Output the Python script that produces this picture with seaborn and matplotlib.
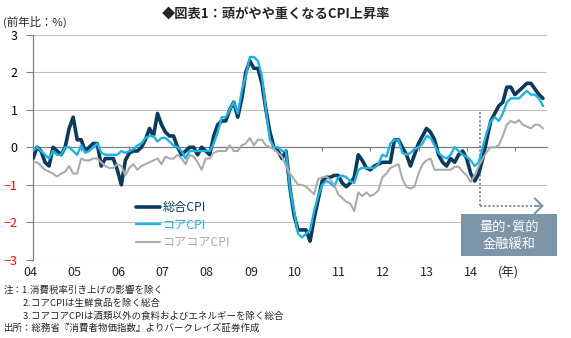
import numpy as np
import pandas as pd
import matplotlib
matplotlib.use("Agg")
import matplotlib.pyplot as plt
from matplotlib.patches import Rectangle
import seaborn as sns

# ---------------- data (前年比, %, monthly Jan-2004 .. Aug-2014) ----------------
headline = [
    -0.3, 0.0, -0.1, -0.4, -0.5, 0.0, -0.1, -0.2, 0.0, 0.5, 0.8, 0.2,      # 2004
    0.2, -0.1, 0.0, 0.1, 0.1, -0.5, -0.3, -0.3, -0.3, -0.6, -1.0, -0.35,   # 2005
    -0.15, -0.1, -0.1, 0.0, 0.2, 0.5, 0.3, 0.9, 0.6, 0.4, 0.3, 0.3,       # 2006
    0.0, -0.2, -0.1, 0.0, 0.0, -0.2, 0.0, -0.1, -0.2, 0.3, 0.6, 0.7,      # 2007
    0.7, 1.0, 1.2, 0.8, 1.3, 2.0, 2.3, 2.1, 2.1, 1.7, 1.0, 0.4,           # 2008
    0.0, -0.1, -0.3, -0.1, -1.1, -1.8, -2.2, -2.2, -2.2, -2.5, -1.9, -1.4,  # 2009
    -0.9, -0.8, -0.8, -0.75, -0.75, -0.95, -1.05, -0.95, -0.8, -0.2, -0.35, -0.55,  # 2010
    -0.6, -0.5, -0.45, -0.4, -0.4, -0.4, 0.2, 0.2, 0.0, -0.2, -0.5, -0.2,  # 2011
    0.1, 0.3, 0.5, 0.4, 0.2, -0.2, -0.4, -0.5, -0.3, -0.4, -0.2, -0.1,    # 2012
    -0.3, -0.7, -0.9, -0.7, -0.3, 0.2, 0.7, 0.9, 1.1, 1.2, 1.6, 1.6,      # 2013
    1.4, 1.5, 1.6, 1.7, 1.7, 1.55, 1.4, 1.3,                              # 2014
]
core = [
    -0.1, 0.0, -0.1, -0.2, -0.3, -0.1, -0.2, -0.2, 0.0, 0.0, -0.1, -0.2,
    0.05, -0.15, -0.1, 0.0, 0.1, -0.15, -0.2, -0.2, -0.2, -0.2, -0.1, -0.15,
    -0.1, -0.05, 0.05, 0.1, 0.25, 0.3, 0.3, 0.15, 0.25, 0.25, 0.15, 0.05,
    0.0, -0.1, -0.3, -0.1, -0.1, -0.1, -0.1, -0.1, -0.1, 0.1, 0.4, 0.8,
    0.8, 1.0, 1.2, 0.9, 1.5, 1.9, 2.4, 2.4, 2.3, 1.9, 1.0, 0.2,
    0.0, 0.0, -0.1, -0.1, -1.1, -1.7, -2.3, -2.4, -2.3, -2.2, -1.7, -1.3,
    -1.0, -0.9, -0.95, -1.05, -0.8, -0.75, -0.8, -0.9, -0.95, -0.6, -0.55, -0.55,
    -0.55, -0.55, -0.45, -0.2, -0.25, 0.1, 0.2, 0.2, -0.15, -0.2, -0.15, -0.05,
    0.0, 0.1, 0.3, 0.25, 0.05, -0.15, -0.25, -0.3, -0.2, 0.0, -0.1, -0.2,
    -0.25, -0.35, -0.5, -0.4, 0.0, 0.4, 0.7, 0.8, 0.7, 0.9, 1.2, 1.3,
    1.3, 1.3, 1.4, 1.5, 1.4, 1.4, 1.3, 1.1,
]
core_core = [
    -0.4, -0.4, -0.5, -0.6, -0.65, -0.7, -0.78, -0.7, -0.65, -0.5, -0.7, -0.7,
    -0.3, -0.35, -0.35, -0.3, -0.3, -0.4, -0.5, -0.55, -0.55, -0.45, -0.5, -0.75,
    -0.55, -0.45, -0.6, -0.5, -0.45, -0.4, -0.35, -0.3, -0.45, -0.25, -0.3, -0.3,
    -0.2, -0.3, -0.45, -0.2, -0.25, -0.4, -0.6, -0.3, -0.3, -0.15, -0.1, -0.1,
    -0.1, 0.05, -0.1, -0.1, 0.05, 0.1, 0.25, 0.05, 0.2, 0.2, 0.05, 0.0,
    -0.05, -0.15, -0.25, -0.5, -0.7, -0.85, -1.0, -1.0, -1.05, -1.15, -1.25, -0.85,
    -0.8, -0.78, -0.86, -1.0, -1.25, -1.35, -1.45, -1.5, -1.7, -1.2, -1.3, -1.2,
    -1.3, -1.25, -1.15, -0.8, -0.7, -0.55, -0.5, -0.45, -0.85, -1.05, -1.1, -1.05,
    -0.7, -0.45, -0.35, -0.3, -0.6, -0.6, -0.6, -0.6, -0.6, -0.52, -0.52, -0.65,
    -0.75, -0.92, -0.75, -0.5, -0.3, -0.12, 0.0, 0.0, 0.05, 0.3, 0.6, 0.7,
    0.65, 0.72, 0.6, 0.55, 0.5, 0.6, 0.6, 0.5,
]
series_names = ["総合CPI", "コアCPI", "コアコアCPI"]
year_labels = ["04", "05", "06", "07", "08", "09", "10", "11", "12", "13", "14"]
y_ticks = [-3, -2, -1, 0, 1, 2, 3]
qqe_month = 111.3          # start of 量的・質的金融緩和 (Apr 2013)

title = "◆図表1：頭がやや重くなるCPI上昇率"
unit_label = "(前年比：%)"
notes = [
    "注：1.消費税率引き上げの影響を除く",
    "　　2.コアCPIは生鮮食品を除く総合",
    "　　3.コアコアCPIは酒類以外の食料およびエネルギーを除く総合",
    "出所：総務省『消費者物価指数』よりバークレイズ証券作成",
]

# ---------------- styling ----------------
sns.set_theme(style="white")
plt.rcParams["font.family"] = ["Noto Sans CJK JP", "DejaVu Sans"]

W, H = 571, 338
colors = ["#0b3a5e", "#1bb4e8", "#ababab"]
widths = [2.6, 1.7, 1.5]

fig = plt.figure(figsize=(W / 100, H / 100), dpi=100)
ax = fig.add_axes([33 / W, 1 - 260 / H, 514 / W, 225.5 / H])

months = np.arange(len(headline))
df = pd.DataFrame({"month": months,
                   series_names[0]: headline,
                   series_names[1]: core,
                   series_names[2]: core_core})

for name, c, lw in zip(series_names, colors, widths):
    sns.lineplot(data=df, x="month", y=name, ax=ax, color=c, linewidth=lw,
                 label=name, zorder=3)

ax.set_xlim(0, 128)
ax.set_ylim(-3, 3)
ax.set_xlabel("")
ax.set_ylabel("")

ax.set_yticks(y_ticks)
ax.set_yticklabels([("\u2212" + str(abs(t))) if t < 0 else str(t) for t in y_ticks])
for lbl, t in zip(ax.get_yticklabels(), y_ticks):
    lbl.set_color("#ff0000" if t < 0 else "#000000")
ax.yaxis.grid(True, color="#c0c0c0", linewidth=0.8)
ax.xaxis.grid(False)
ax.set_axisbelow(True)

ax.spines["top"].set_visible(False)
ax.spines["right"].set_visible(False)
ax.spines["bottom"].set_position(("data", 0))
ax.spines["bottom"].set_color("#808080")
ax.spines["bottom"].set_linewidth(0.9)
ax.spines["left"].set_color("#808080")
ax.spines["left"].set_linewidth(0.9)

ax.set_xticks(np.arange(0, 121, 12))
ax.tick_params(axis="x", bottom=True, direction="out", length=3, width=0.8,
               color="#808080", labelbottom=False)
ax.tick_params(axis="y", left=True, direction="out", length=5, width=0.8,
               color="#808080", labelsize=9, pad=6)

# legend
leg = ax.legend(loc="upper left", bbox_to_anchor=(0.2, 0.262), frameon=False,
                fontsize=8.7, handlelength=2.0, handletextpad=0.2,
                labelspacing=0.38, borderaxespad=0, borderpad=0,
                labelcolor="linecolor")

# QQE annotation: dotted bracket arrow
box_col = "#7d95a8"
ax.plot([qqe_month, qqe_month], [0.95, -1.56], color=box_col, lw=1.5,
        linestyle=(0, (1, 1)), zorder=2, solid_capstyle="butt")
ax.plot([qqe_month, 125.8], [-1.56, -1.56], color=box_col, lw=1.5,
        linestyle=(0, (1, 1)), zorder=2)
ax.annotate("", xy=(127.2, -1.56), xytext=(125.0, -1.56),
            arrowprops=dict(arrowstyle="->,head_length=0.45,head_width=0.45",
                            color=box_col, lw=1.5, shrinkA=0, shrinkB=0,
                            mutation_scale=12))

rect = Rectangle((461 / W, 1 - 256 / H), 96 / W, 42 / H,
                 transform=fig.transFigure, facecolor=box_col,
                 edgecolor="none", zorder=5)
fig.add_artist(rect)
fig.text(509 / W, 1 - 227 / H, "量的･質的", color="white", fontsize=9.5,
         ha="center", va="center", zorder=6)
fig.text(509 / W, 1 - 244 / H, "金融緩和", color="white", fontsize=9.5,
         ha="center", va="center", zorder=6)

# titles / labels
fig.text(276 / W, 1 - 14 / H, title, fontsize=9.5, fontweight="bold",
         ha="center", va="center")
fig.text(3 / W, 1 - 22 / H, unit_label, fontsize=8.2, ha="left", va="center")

label_px = np.linspace(30.7, 471, len(year_labels))
for px, lab in zip(label_px, year_labels):
    fig.text(px / W, 1 - 273 / H, lab, fontsize=9, ha="center", va="center")
fig.text(508 / W, 1 - 273 / H, "(年)", fontsize=9, ha="center", va="center")

for yy, line in zip([290, 303, 316, 328], notes):
    fig.text(4 / W, 1 - yy / H, line, fontsize=6.8, ha="left", va="center")

fig.savefig("out.png", dpi=100)
